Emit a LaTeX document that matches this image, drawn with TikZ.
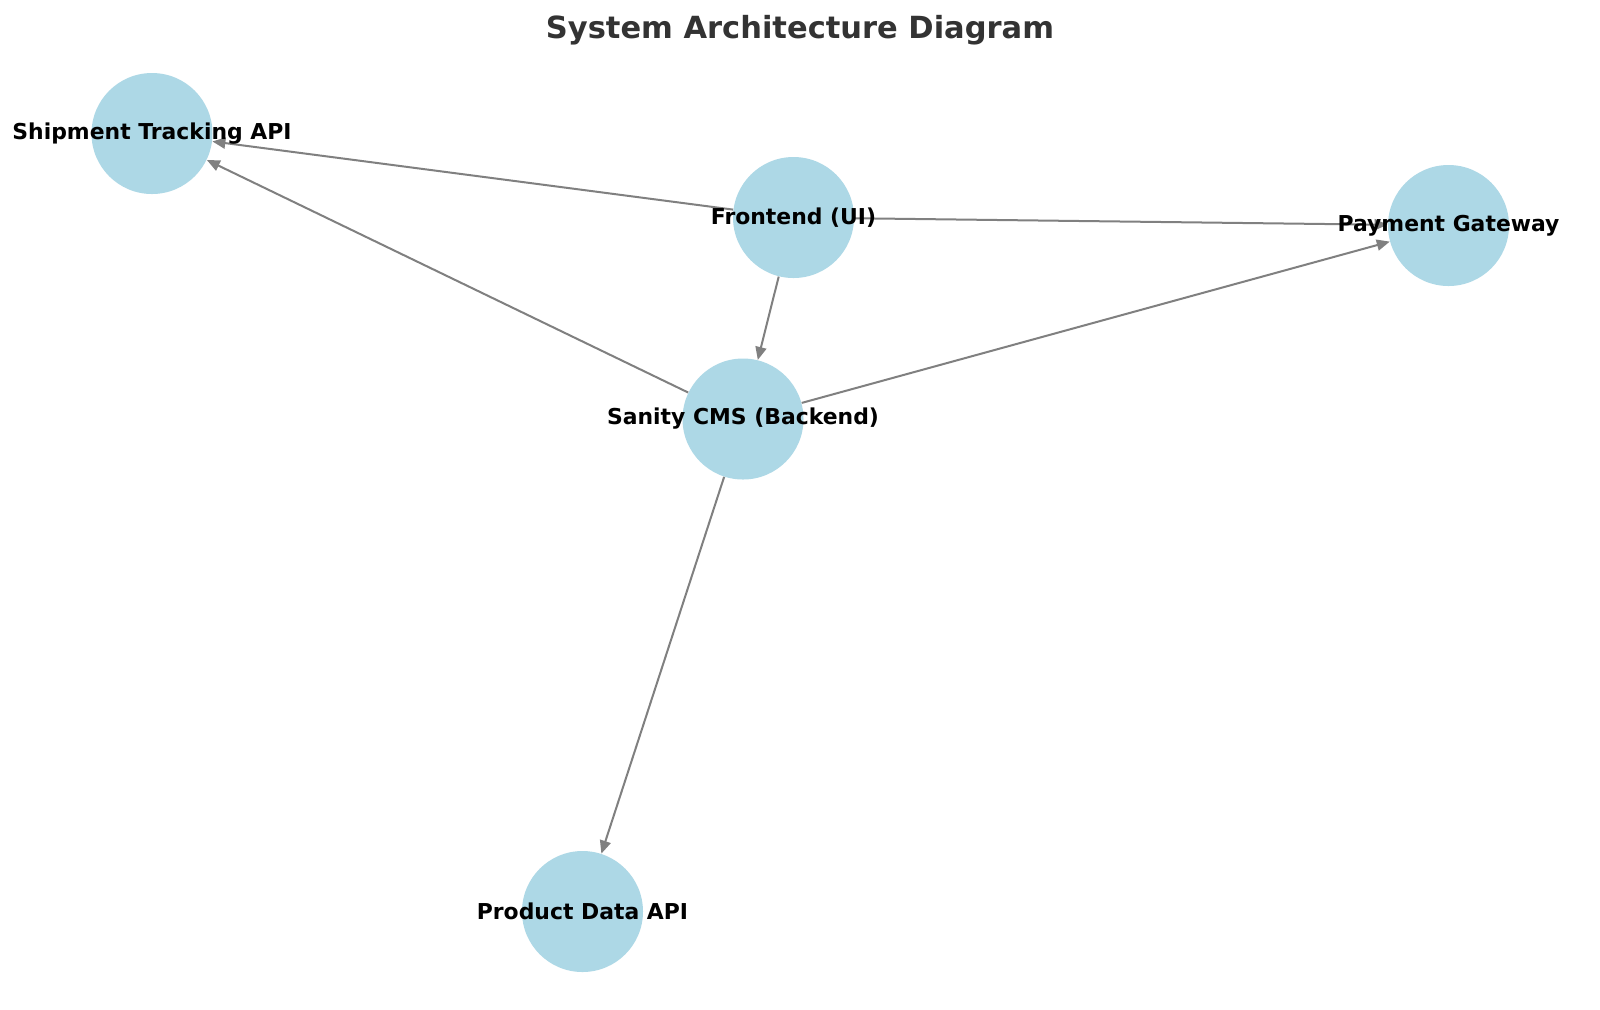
\documentclass[tikz,border=0pt]{standalone}
\usepackage{fontspec}
\setmainfont{DejaVu Sans}
\usetikzlibrary{arrows.meta}
\definecolor{nodeblue}{HTML}{ADD8E6}
\definecolor{edgegray}{HTML}{808080}
\definecolor{titlegray}{HTML}{333333}
\begin{document}
\begin{tikzpicture}[x=0.5pt,y=-0.5pt,
  bubble/.style={circle,fill=nodeblue,draw=none,minimum size=60.5pt,inner sep=0pt},
  lbl/.style={font=\fontsize{10.95pt}{12pt}\selectfont\bfseries,text=black,inner sep=0pt},
  edge/.style={draw=edgegray,line width=1pt,-{Triangle[length=6.5pt,width=5.5pt]}}]
\useasboundingbox (0,0) rectangle (1600,1009);
\fill[white] (0,0) rectangle (1600,1009);
\node[font=\fontsize{15.25pt}{18pt}\selectfont\bfseries,text=titlegray,inner sep=0pt] (title) at (800,30) {System Architecture Diagram};
\node[bubble] (ship) at (152,133.5) {};
\node[bubble] (front) at (793.5,217.5) {};
\node[bubble] (pay) at (1448.5,225.5) {};
\node[bubble] (cms) at (743,419) {};
\node[bubble] (prod) at (582.5,911.5) {};
\draw[edge] (front) -- (ship);
\draw[edge] (front) -- (pay);
\draw[edge] (front) -- (cms);
\draw[edge] (cms) -- (ship);
\draw[edge] (cms) -- (pay);
\draw[edge] (cms) -- (prod);
\node[lbl] (shipl) at (152,133.5) {Shipment Tracking API};
\node[lbl] (frontl) at (793.5,217.5) {Frontend (UI)};
\node[lbl] (payl) at (1448.5,225.5) {Payment Gateway};
\node[lbl] (cmsl) at (743,419) {Sanity CMS (Backend)};
\node[lbl] (prodl) at (582.5,911.5) {Product Data API};
\end{tikzpicture}
\end{document}
